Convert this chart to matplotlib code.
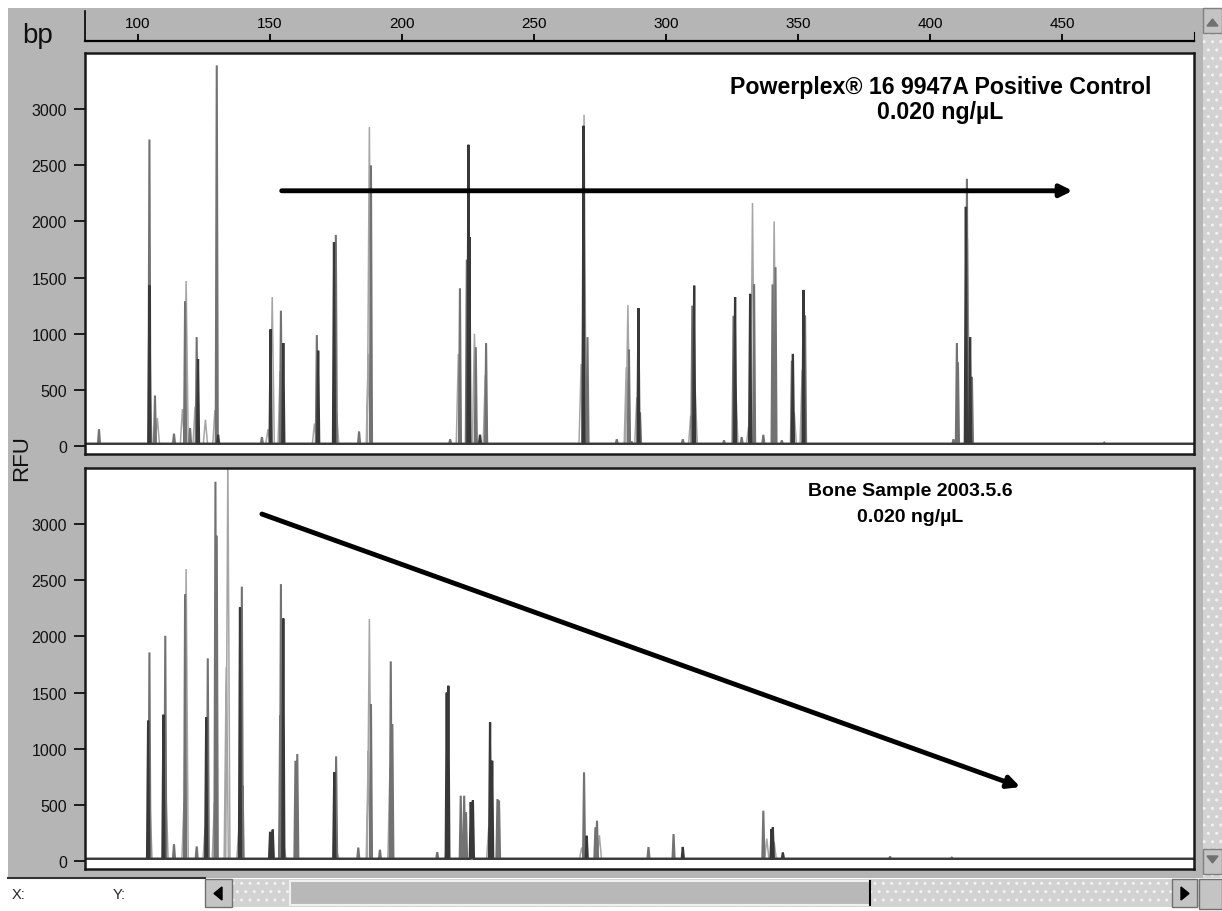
import matplotlib
matplotlib.use("Agg")
import matplotlib.pyplot as plt
from matplotlib.patches import Rectangle, Polygon

plt.rcParams['font.family'] = ['Liberation Sans', 'DejaVu Sans']

# peaks: size (bp), height (RFU), dye shade
# shade: 'd' dark trace, 'm' medium trace, 'l' light (outlined) trace
ctrl_bp = [85.3, 104.4, 104.4, 104.6, 106.5, 107.4, 113.7, 116.9, 117.9, 118.3,
           119.8, 121.7, 122.3, 122.8, 125.6, 129.2, 129.9, 130.4, 147.0, 149.3,
           150.3, 150.9, 153.9, 154.2, 155.1, 166.9, 167.8, 168.3, 174.3, 175.0,
           175.3, 183.8, 187.3, 187.7, 188.3, 218.3, 221.4, 222.0, 224.6, 225.2,
           225.6, 227.5, 228.0, 229.6, 231.6, 231.9, 267.9, 268.8, 269.0, 270.3,
           281.4, 285.0, 285.6, 286.0, 287.0, 289.0, 289.6, 290.2, 306.4, 309.4,
           310.0, 310.7, 311.1, 322.0, 325.6, 326.2, 326.5, 328.7, 331.3, 331.9,
           332.8, 333.4, 336.9, 340.4, 341.0, 341.5, 343.9, 347.7, 348.1, 348.6,
           351.6, 352.1, 352.7, 408.9, 410.2, 410.6, 413.6, 414.0, 414.2, 415.2,
           415.9, 466.0]
ctrl_rfu = [150, 2730, 1430, 500, 450, 250, 110, 330, 1290, 1470,
            160, 350, 970, 775, 234, 320, 3390, 100, 80, 150,
            1040, 1327, 670, 1205, 917, 200, 988, 849, 1815, 1880,
            300, 130, 820, 2840, 2500, 60, 820, 1405, 1660, 2683,
            1860, 1000, 880, 100, 630, 917, 730, 2852, 2950, 970,
            60, 700, 1255, 860, 40, 435, 1228, 300, 60, 270,
            1250, 1428, 493, 50, 1160, 1327, 520, 80, 170, 1355,
            2164, 1442, 100, 1440, 2000, 1593, 50, 760, 820, 300,
            680, 1390, 1165, 60, 917, 745, 2130, 2380, 1850, 970,
            617, 30]
ctrl_dye = ['m', 'm', 'd', 'l', 'm', 'l', 'm', 'l', 'm', 'l',
            'm', 'l', 'm', 'd', 'l', 'l', 'm', 'd', 'm', 'l',
            'd', 'l', 'l', 'm', 'd', 'l', 'm', 'd', 'd', 'm',
            'l', 'm', 'l', 'l', 'm', 'm', 'l', 'm', 'm', 'd',
            'd', 'l', 'm', 'd', 'l', 'm', 'l', 'd', 'l', 'm',
            'm', 'l', 'l', 'm', 'm', 'l', 'd', 'm', 'm', 'l',
            'm', 'd', 'l', 'm', 'm', 'd', 'l', 'm', 'l', 'd',
            'l', 'm', 'm', 'm', 'l', 'm', 'm', 'm', 'd', 'l',
            'l', 'd', 'm', 'm', 'm', 'm', 'd', 'm', 'l', 'd',
            'm', 'm']

bone_bp = [103.9, 104.4, 104.6, 109.7, 110.4, 110.7, 113.7, 117.5, 117.9, 118.3,
           122.3, 125.5, 125.9, 126.5, 129.0, 129.4, 129.9, 133.5, 134.1, 138.3,
           138.7, 139.4, 139.7, 150.1, 151.1, 153.9, 154.2, 155.1, 155.3, 159.7,
           160.4, 174.4, 175.1, 175.3, 183.5, 187.3, 187.7, 188.3, 191.7, 195.5,
           195.8, 196.4, 213.4, 217.0, 217.2, 217.6, 222.3, 223.6, 224.3, 226.1,
           226.9, 232.9, 233.4, 234.2, 236.2, 236.8, 268.1, 269.0, 270.0, 273.3,
           273.9, 274.8, 293.4, 302.9, 306.4, 336.9, 338.2, 340.0, 340.5, 341.0,
           344.3, 384.9, 408.3]
bone_rfu = [1250, 1858, 523, 1303, 2006, 580, 150, 520, 2377, 2600,
            130, 300, 1280, 1805, 520, 3378, 2897, 1727, 3600, 300,
            2259, 2443, 670, 260, 280, 1294, 2466, 2160, 150, 893,
            953, 790, 932, 100, 120, 983, 2155, 1398, 100, 834,
            1778, 1220, 80, 1500, 180, 1561, 582, 582, 435, 525,
            540, 300, 1235, 893, 552, 540, 120, 790, 225, 300,
            359, 230, 125, 240, 125, 448, 200, 285, 300, 170,
            75, 40, 30]
bone_dye = ['d', 'm', 'l', 'd', 'm', 'l', 'm', 'l', 'm', 'l',
            'm', 'l', 'd', 'm', 'l', 'm', 'm', 'l', 'l', 'l',
            'd', 'm', 'm', 'd', 'd', 'm', 'm', 'd', 'l', 'm',
            'm', 'd', 'm', 'l', 'm', 'l', 'l', 'm', 'm', 'l',
            'm', 'm', 'm', 'd', 'l', 'd', 'm', 'm', 'm', 'd',
            'd', 'l', 'd', 'd', 'm', 'm', 'l', 'm', 'd', 'm',
            'm', 'l', 'm', 'm', 'd', 'm', 'l', 'd', 'd', 'l',
            'd', 'm', 'm']

ruler_ticks = [100, 150, 200, 250, 300, 350, 400, 450]
rfu_ticks = [0, 500, 1000, 1500, 2000, 2500, 3000]

ctrl_title = ['Powerplex\u00ae 16 9947A Positive Control', '0.020 ng/\u00b5L']
bone_title = ['Bone Sample 2003.5.6', '0.020 ng/\u00b5L']

# arrows: (start bp, start RFU) -> (end bp, end RFU)
ctrl_arrow = [(154.5, 2273), (454.0, 2273)]
bone_arrow = [(147.0, 3090), (434.2, 659)]

XMIN, XMAX = 80, 500
YMIN, YMAX = -71, 3500
BASE = 20
shade = {'l': '#a5a5a5', 'm': '#727272', 'd': '#383838'}
halfw = {'l': 0.8, 'm': 0.4, 'd': 0.4}
lw = {'l': 1.1, 'm': 1.5, 'd': 1.6}


def trace(bps, rfus, dyes, dye):
    xs, ys = [XMIN], [BASE]
    for b, r in sorted((b, r) for b, r, d in zip(bps, rfus, dyes) if d == dye):
        xs += [b - halfw[dye], b, b + halfw[dye]]
        ys += [BASE, r, BASE]
    xs.append(XMAX)
    ys.append(BASE)
    return xs, ys


W, H = 1222, 912
fig = plt.figure(figsize=(W / 100, H / 100), dpi=100, facecolor='white')


def box(x0, y0, x1, y1):
    return [x0 / W, 1 - y1 / H, (x1 - x0) / W, (y1 - y0) / H]


# window chrome (pixel coordinates)
bg = fig.add_axes([0, 0, 1, 1])
bg.set_xlim(0, W)
bg.set_ylim(H, 0)
bg.axis('off')
plt.rcParams['hatch.color'] = '#f2f2f2'
bg.add_patch(Rectangle((8, 9), 1195, 870, color='#b5b5b5', lw=0))
bg.add_patch(Rectangle((1203, 9), 19, 870, facecolor='#d2d2d2', hatch='..', lw=0))
bg.add_patch(Rectangle((1203, 9), 19, 25, facecolor='#c4c4c4', edgecolor='#808080', lw=1))
bg.add_patch(Polygon([(1207, 27), (1218, 27), (1212.5, 20)], color='#707070'))
bg.add_patch(Rectangle((1203, 850), 19, 25, facecolor='#c4c4c4', edgecolor='#808080', lw=1))
bg.add_patch(Polygon([(1207, 857), (1218, 857), (1212.5, 864)], color='#707070'))
bg.add_patch(Rectangle((8, 879), 197, 31, facecolor='white', lw=0))
bg.plot([8, 205], [879, 879], color='#333333', lw=1.5)
bg.text(12, 895, 'X:', fontsize=10.5, va='center', color='#222222')
bg.text(113, 895, 'Y:', fontsize=10.5, va='center', color='#222222')
bg.add_patch(Rectangle((205, 880), 995, 28, facecolor='#d2d2d2', hatch='..', lw=0))
bg.add_patch(Rectangle((205, 880), 27, 28, facecolor='#c4c4c4', edgecolor='#707070', lw=1))
bg.add_patch(Polygon([(222, 888), (222, 901), (214, 894.5)], color='black'))
bg.add_patch(Rectangle((290, 882), 580, 24, facecolor='#b8b8b8', edgecolor='#f0f0f0', lw=1.5))
bg.plot([870, 870], [882, 906], color='black', lw=1.5)
bg.add_patch(Rectangle((1172, 880), 25, 28, facecolor='#c4c4c4', edgecolor='#707070', lw=1))
bg.add_patch(Polygon([(1181, 888), (1181, 901), (1189, 894.5)], color='black'))
bg.add_patch(Rectangle((1199, 880), 23, 30, facecolor='#c4c4c4', edgecolor='#707070', lw=1))

fig.text(38 / W, 1 - 36 / H, 'bp', fontsize=20, ha='center', va='center', color='#111111')
fig.text(22 / W, 1 - 458 / H, 'RFU', fontsize=16, rotation=90, ha='center', va='center',
         color='#111111')

# bp ruler
ruler = fig.add_axes(box(85, 12, 1194, 42))
ruler.set_facecolor('none')
ruler.set_xlim(XMIN, XMAX)
ruler.set_ylim(0, 1)
for s in ['top', 'right']:
    ruler.spines[s].set_visible(False)
ruler.spines['bottom'].set_linewidth(1.6)
ruler.spines['left'].set_linewidth(1.2)
ruler.spines['right'].set_visible(True)
ruler.spines['right'].set_bounds(0, 0.3)
ruler.set_xticks(ruler_ticks)
ruler.set_yticks([])
ruler.tick_params(axis='x', direction='in', length=5, width=1.3, pad=-18, labelsize=11)

panels = [
    (box(85, 54, 1194, 455), ctrl_bp, ctrl_rfu, ctrl_dye, ctrl_title, ctrl_arrow,
     (404, 3200, 2975), 16.7),
    (box(85, 469, 1194, 870), bone_bp, bone_rfu, bone_dye, bone_title, bone_arrow,
     (392.5, 3300, 3068), 14),
]
for rect, bps, rfus, dyes, title, arrow, tpos, tsize in panels:
    ax = fig.add_axes(rect)
    ax.set_facecolor('white')
    for dye in ['l', 'm', 'd']:
        xs, ys = trace(bps, rfus, dyes, dye)
        ax.plot(xs, ys, color=shade[dye], lw=lw[dye], solid_joinstyle='miter')
    ax.set_xlim(XMIN, XMAX)
    ax.set_ylim(YMIN, YMAX)
    ax.set_xticks([])
    ax.set_yticks(rfu_ticks)
    ax.tick_params(axis='y', direction='out', length=8, width=1.3, pad=5, labelsize=11.5,
                   colors='#111111')
    for s in ax.spines.values():
        s.set_linewidth(1.8)
        s.set_color('#1a1a1a')
    ax.text(tpos[0], tpos[1], title[0], fontsize=tsize, fontweight='bold', ha='center',
            va='center')
    ax.text(tpos[0], tpos[2], title[1], fontsize=tsize, fontweight='bold', ha='center',
            va='center')
    ax.annotate('', xy=arrow[1], xytext=arrow[0],
                arrowprops=dict(arrowstyle='-|>', color='black', lw=3.5,
                                mutation_scale=18, shrinkA=0, shrinkB=0))

fig.savefig('out.png', dpi=100, facecolor=fig.get_facecolor())
